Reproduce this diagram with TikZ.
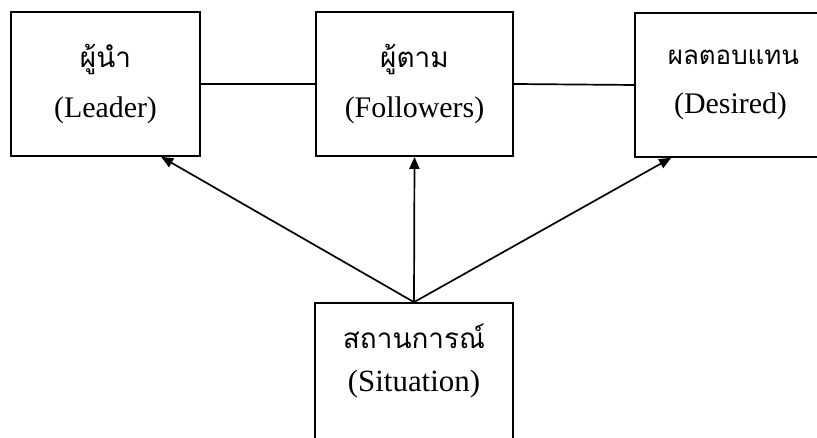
\documentclass[tikz,border=0pt]{standalone}
\usepackage{fontspec}
\setmainfont{Liberation Serif}
\newfontfamily\thai[Script=Thai]{Loma}
\usetikzlibrary{arrows.meta,calc}
\begin{document}
\begin{tikzpicture}[x=1bp,y=1bp,
  box/.style={draw, line width=1.7bp, minimum height=144bp, inner sep=0pt, align=center,
    font=\fontsize{30}{50}\selectfont},
  label/.style={inner sep=0pt, align=center, font=\fontsize{31}{43}\selectfont},
  link/.style={line width=1.7bp},
  arr/.style={line width=1.7bp, -{Triangle[length=12bp,width=10bp]}}]
\clip (0,0) rectangle (817,438);
\node[box, minimum width=189bp] (L) at (105.5,354)
  {{\thai\fontsize{28}{50}\selectfont ผู้นำ}\\(Leader)};
\node[box, minimum width=197bp] (F) at (414.5,354)
  {{\thai\fontsize{28}{50}\selectfont ผู้ตาม}\\(Followers)};
\node[box, minimum width=197bp] (D) at (733.5,353)
  {{\thai\fontsize{26}{50}\selectfont ผลตอบแทน}\\(Desired)\hspace*{6bp}};
\node[box, minimum width=198bp] (S) at (414,63) {};
\node[label] (St) at (414,77)
  {{\thai\fontsize{28}{43}\selectfont สถานการณ์}\\(Situation)};
\draw[link] (L.east) -- (F.west);
\draw[link] (F.east) -- (D.west);
\draw[arr] (S.north) -- ($(L.south west)+(151,0)$);
\draw[arr] (S.north) -- (F.south);
\draw[arr] (S.north) -- ($(D.south west)+(37,0)$);
\end{tikzpicture}
\end{document}
